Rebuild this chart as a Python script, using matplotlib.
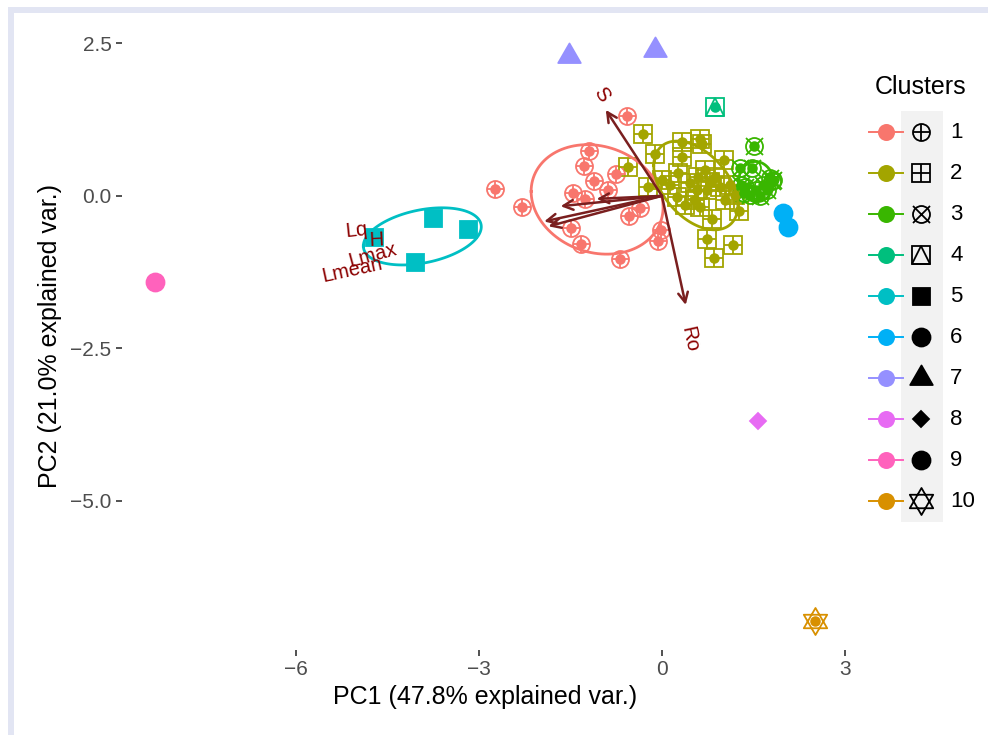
import numpy as np
import matplotlib.pyplot as plt
from matplotlib.path import Path
from matplotlib.patches import Rectangle

plt.rcParams['font.family'] = ['Liberation Sans', 'DejaVu Sans']

clusters = ['1', '2', '3', '4', '5', '6', '7', '8', '9', '10']
colors = ['#F8766D', '#A3A500', '#39B600', '#00BF7D', '#00BFC4',
          '#00B0F6', '#9590FF', '#E76BF3', '#FF62BC', '#D89000']

# PCA scores per cluster
c1_x = [-0.57, -1.20, -1.28, -1.11, -0.75, -0.89, -1.46, -1.26, -2.74, -2.30,
        -1.49, -1.33, -0.69, -0.36, -0.54, -0.02, -0.07]
c1_y = [1.31, 0.74, 0.49, 0.25, 0.36, 0.10, 0.05, -0.05, 0.11, -0.18,
        -0.52, -0.79, -1.03, -0.20, -0.33, -0.56, -0.74]
c2_x = [-0.31, 0.33, 0.62, 0.66, -0.11, 0.33, -0.56, 1.02, -0.23, 0.00, 0.26,
        0.59, 0.87, 0.25, 0.57, 0.74, 0.95, 0.62, 0.82, 1.26, 0.74, 1.16, 0.85,
        0.46, 0.79, 0.38, 1.03, 1.11, 0.13, 0.54, 0.70, 1.20]
c2_y = [1.02, 0.89, 0.93, 0.85, 0.69, 0.64, 0.48, 0.59, 0.15, 0.26, 0.38,
        0.31, 0.31, -0.02, 0.10, 0.10, 0.15, -0.18, -0.38, -0.25, -0.70, -0.80, -1.02,
        0.21, 0.23, -0.15, -0.07, 0.18, 0.18, -0.07, 0.43, 0.02]
c3_x = [1.51, 1.28, 1.47, 1.77, 1.36, 1.55, 1.66, 1.82, 1.30, 1.44, 1.61, 1.72, 1.80, 1.35]
c3_y = [0.81, 0.45, 0.45, 0.29, 0.15, 0.10, 0.18, 0.26, 0.18, 0.02, -0.01, 0.10, 0.25, 0.05]
c4_x = [0.87]
c4_y = [1.46]
c5_x = [-4.72, -3.76, -3.18, -4.05]
c5_y = [-0.67, -0.36, -0.54, -1.09]
c6_x = [1.98, 2.06]
c6_y = [-0.28, -0.51]
c7_x = [-1.52, -0.11]
c7_y = [2.30, 2.39]
c8_x = [1.57]
c8_y = [-3.70]
c9_x = [-8.31]
c9_y = [-1.41]
c10_x = [2.51]
c10_y = [-6.98]

xs = [c1_x, c2_x, c3_x, c4_x, c5_x, c6_x, c7_x, c8_x, c9_x, c10_x]
ys = [c1_y, c2_y, c3_y, c4_y, c5_y, c6_y, c7_y, c8_y, c9_y, c10_y]

# variable loadings (arrows) and label positions
var_names = ['S', 'Ro', 'Lq', 'H', 'Lmax', 'Lmean']
load_x = [-0.92, 0.39, -1.66, -1.07, -1.86, -1.93]
load_y = [1.41, -1.79, -0.17, -0.05, -0.50, -0.42]
lab_x = [-1.00, 0.46, -5.00, -4.68, -4.74, -5.07]
lab_y = [1.66, -2.36, -0.56, -0.72, -0.97, -1.21]

tri = Path([(0, 0.577), (-0.5, -0.289), (0.5, -0.289), (0, 0.577)],
           [Path.MOVETO, Path.LINETO, Path.LINETO, Path.CLOSEPOLY])
star = Path([(0, 1), (-0.866, -0.5), (0.866, -0.5), (0, 1),
             (0, -1), (-0.866, 0.5), (0.866, 0.5), (0, -1)],
            [Path.MOVETO, Path.LINETO, Path.LINETO, Path.CLOSEPOLY,
             Path.MOVETO, Path.LINETO, Path.LINETO, Path.CLOSEPOLY])

PX = 0.72  # px -> pt at 100 dpi
# (marker, filled, size in px) layers for each cluster shape
shapes = [
    [('o', False, 17), ('+', False, 17)],
    [('s', False, 18), ('+', False, 18)],
    [('o', False, 17), ('x', False, 17)],
    [('s', False, 18), ('^', False, 18)],
    [('s', True, 17)],
    [('o', True, 18)],
    [(tri, True, 26)],
    [('D', True, 12)],
    [('o', True, 18)],
    [(star, False, 27)],
]


def draw_shape(ax, x, y, spec, col, mew, z, **kw):
    for m, filled, s in spec:
        ax.plot(x, y, ls='none', marker=m, ms=s * PX, mew=mew,
                mec=col, mfc=col if filled else 'none', zorder=z, **kw)


def ellipse(x, y, prob=0.68):
    pts = np.column_stack([x, y])
    sigma = np.cov(pts.T)
    mu = pts.mean(axis=0)
    ed = np.sqrt(-2 * np.log(1 - prob))
    t = np.linspace(-np.pi, np.pi, 120)
    circ = np.column_stack([np.cos(t), np.sin(t)])
    U = np.linalg.cholesky(sigma).T
    return circ @ U * ed + mu


W, H = 988, 735
fig = plt.figure(figsize=(W / 100, H / 100), dpi=100)

# background axes in pixel coordinates (frame + legend)
bg = fig.add_axes([0, 0, 1, 1])
bg.set_xlim(0, W)
bg.set_ylim(H, 0)
bg.axis('off')
bg.add_patch(Rectangle((8, 7), W - 8, 6, color='#e2e5f3', lw=0))
bg.add_patch(Rectangle((8, 7), 6, H - 7, color='#e2e5f3', lw=0))

left, right, top, bottom = 122, 848, 21.5, 650
ax = fig.add_axes([left / W, 1 - bottom / H, (right - left) / W, (bottom - top) / H])
ax.set_xlim(-8.85, 3.05)
ax.set_ylim(-7.45, 2.86)
ax.patch.set_alpha(0)
for sp in ax.spines.values():
    sp.set_visible(False)

for i in range(len(clusters)):
    draw_shape(ax, xs[i], ys[i], shapes[i], colors[i], 1.3, 2)
    ax.plot(xs[i], ys[i], ls='none', marker='o', ms=10.5 * PX, mew=0,
            color=colors[i], zorder=2.5)
    if len(xs[i]) > 2:
        e = ellipse(xs[i], ys[i])
        ax.plot(e[:, 0], e[:, 1], color=colors[i], lw=2, zorder=3)

for n, vx, vy, tx, ty in zip(var_names, load_x, load_y, lab_x, lab_y):
    ax.annotate('', xy=(vx, vy), xytext=(0, 0),
                arrowprops=dict(arrowstyle='->,head_length=0.7,head_width=0.35',
                                color='#7a1f1f', lw=1.8, shrinkA=0, shrinkB=0),
                zorder=4)
    ang = np.degrees(np.arctan(vy / vx))
    ax.text(tx, ty, n, color='#8B0000', fontsize=14.5, rotation=ang,
            rotation_mode='anchor', ha='center', va='center', zorder=5)

ax.set_xticks([-6, -3, 0, 3])
ax.set_yticks([2.5, 0.0, -2.5, -5.0])
ax.set_yticklabels(['2.5', '0.0', '\u22122.5', '\u22125.0'])
ax.tick_params(length=4.5, width=1.2, color='#333333', labelcolor='#4D4D4D',
               labelsize=15, pad=3)
ax.set_xlabel('PC1 (47.8% explained var.)', fontsize=18, labelpad=4)
ax.set_ylabel('PC2 (21.0% explained var.)', fontsize=18, labelpad=6)

# legend
bg.text(875, 87, 'Clusters', fontsize=18, ha='left', va='center')
bg.add_patch(Rectangle((901, 110.5), 42, 411, color='#F2F2F2', lw=0))
for i, lab in enumerate(clusters):
    yy = 132 + 41 * i
    bg.plot([869, 903], [yy, yy], color=colors[i], lw=1.4, zorder=3)
    bg.plot([886], [yy], marker='o', ms=17 * PX, mew=0, color=colors[i], zorder=3)
    draw_shape(bg, [921], [yy], shapes[i], 'black', 1.3, 3)
    bg.text(950, yy, lab, fontsize=16, ha='left', va='center')

fig.savefig('out.png', dpi=100)
